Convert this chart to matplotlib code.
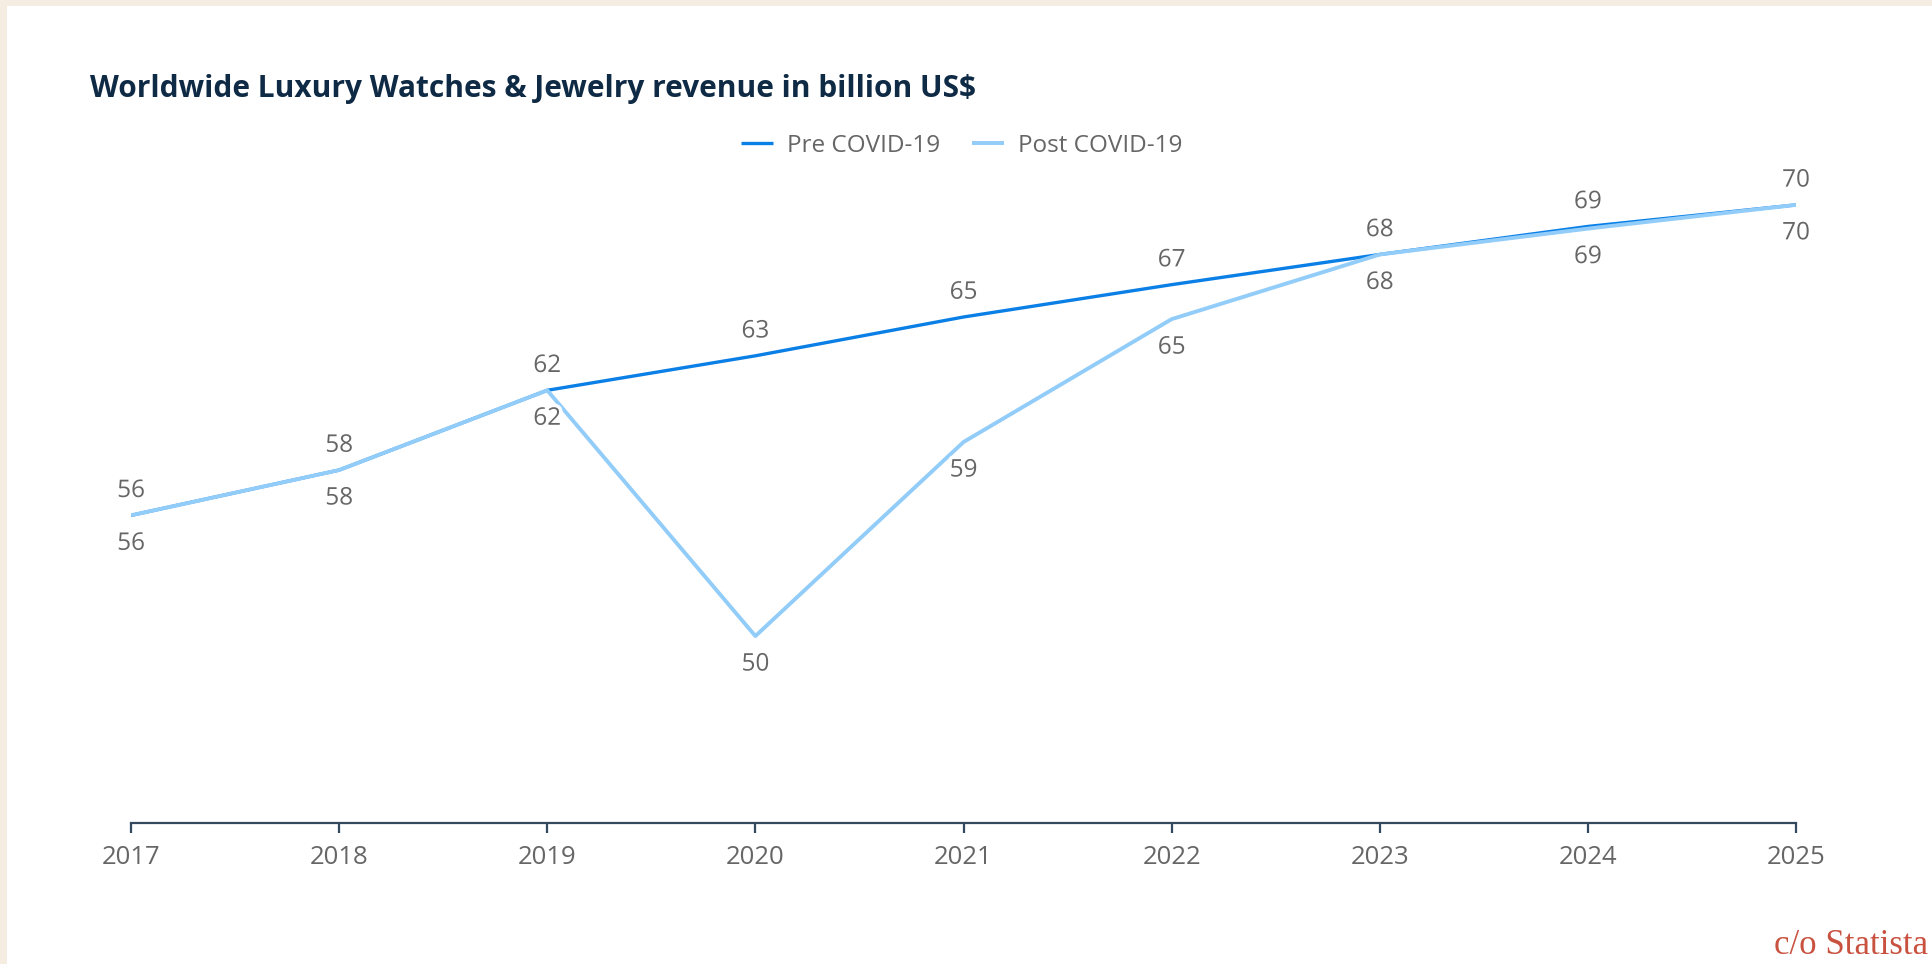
import matplotlib
matplotlib.use("Agg")
import matplotlib.pyplot as plt
import matplotlib.patheffects as pe
from matplotlib.patches import Rectangle

years = [2017, 2018, 2019, 2020, 2021, 2022, 2023, 2024, 2025]
pre_covid = [56.0, 58.1, 61.8, 63.4, 65.2, 66.7, 68.1, 69.4, 70.4]
post_covid = [56.0, 58.1, 61.8, 50.4, 59.4, 65.1, 68.1, 69.3, 70.4]

pre_color = "#0a7fe6"
post_color = "#92ccf9"
label_color = "#666666"

plt.rcParams["font.family"] = ["Open Sans", "DejaVu Sans"]

fig = plt.figure(figsize=(19.32, 9.64), dpi=100)
fig.patch.set_facecolor("#f5ece2")
# white card on the beige background
fig.patches.append(Rectangle((7 / 1932, 0), 1, (964 - 6) / 964,
                             transform=fig.transFigure, facecolor="white",
                             edgecolor="none", zorder=-10))

ax = fig.add_axes([131 / 1932, (964 - 823) / 964, (1796 - 131) / 1932, 652.6 / 964])
ax.set_facecolor("none")
ax.set_zorder(5)

ax.plot(years, pre_covid, color=pre_color, lw=2.4, label="Pre COVID-19",
        solid_capstyle="butt", zorder=2)
ax.plot(years, post_covid, color=post_color, lw=2.8, label="Post COVID-19",
        solid_capstyle="butt", zorder=3)

halo = [pe.withStroke(linewidth=5, foreground="white")]
for i, yr in enumerate(years):
    ax.annotate(f"{pre_covid[i]:.0f}", (yr, pre_covid[i]), xytext=(0, 17.5),
                textcoords="offset points", ha="center", va="center",
                fontsize=17.5, color=label_color, path_effects=halo,
                annotation_clip=False, zorder=5)
    ax.annotate(f"{post_covid[i]:.0f}", (yr, post_covid[i]), xytext=(0, -20.5),
                textcoords="offset points", ha="center", va="center",
                fontsize=17.5, color=label_color, path_effects=halo,
                annotation_clip=False, zorder=5)

ax.set_xlim(2017, 2025)
ax.set_ylim(41.73, 72)
ax.set_xticks(years)
ax.set_xticklabels([str(y) for y in years])
ax.set_yticks([])
for side in ["top", "right", "left"]:
    ax.spines[side].set_visible(False)
ax.spines["bottom"].set_color("#34495e")
ax.spines["bottom"].set_linewidth(1.6)
ax.tick_params(axis="x", direction="out", length=7, width=1.6, color="#34495e",
               labelsize=18.5, labelcolor=label_color, pad=9)

fig.text(90 / 1932, 1 - 89 / 964, "Worldwide Luxury Watches & Jewelry revenue in billion US$",
         fontsize=21.5, fontweight="bold", color="#0f2a44", ha="left", va="center")

fig.legend(loc="center", bbox_to_anchor=(962 / 1932, 1 - 146 / 964), ncol=2,
           frameon=False, fontsize=17.5, labelcolor=label_color, handlelength=1.3,
           handletextpad=0.6, columnspacing=1.3)

fig.text(1928 / 1932, 1 - 946 / 964, "c/o Statista", fontsize=25,
         family=["Liberation Serif", "DejaVu Serif"], color="#c9513f",
         ha="right", va="center")

fig.savefig("out.png", dpi=100, facecolor=fig.get_facecolor())
